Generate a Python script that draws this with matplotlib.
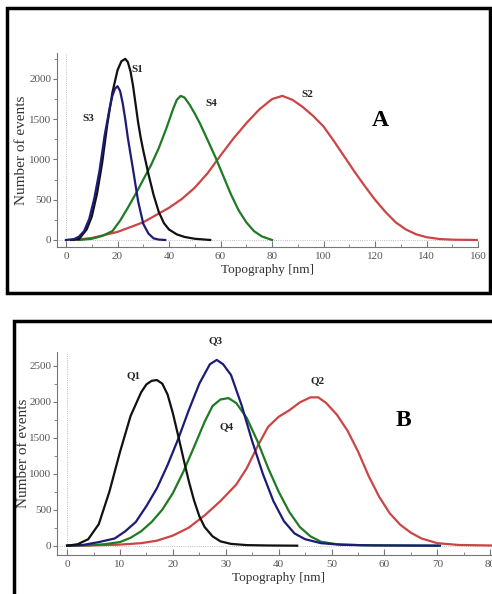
import matplotlib
matplotlib.use('Agg')
import matplotlib.pyplot as plt
from matplotlib.patches import Rectangle
from matplotlib.ticker import MultipleLocator

# Panel A data (Topography [nm] vs Number of events)
s1_x = [2, 5, 8, 10, 12, 14, 16, 18, 20, 21.5, 23, 24, 25, 26, 27, 28, 29, 30, 32, 34, 36, 38, 40, 43, 46, 50, 56]
s1_y = [0, 10, 130, 290, 570, 950, 1430, 1830, 2110, 2220, 2250, 2210, 2100, 1920, 1690, 1460, 1270, 1110, 820, 560, 350, 210, 130, 70, 38, 15, 0]

s3_x = [0, 3, 5, 7, 9, 11, 13, 15, 17, 18, 19, 20, 21, 22, 23, 24, 26, 28, 30, 32, 34, 36, 38.5]
s3_y = [0, 10, 40, 110, 260, 520, 860, 1300, 1650, 1790, 1880, 1910, 1850, 1700, 1500, 1270, 880, 480, 200, 80, 20, 5, 0]

s4_x = [5, 10, 14, 18, 21, 24, 27, 30, 33, 36, 39, 41.5, 43, 44.5, 46, 48, 50, 52, 55, 58, 61, 64, 67, 70, 73, 76, 80]
s4_y = [0, 15, 50, 110, 240, 400, 570, 750, 930, 1140, 1390, 1620, 1740, 1790, 1770, 1680, 1570, 1448, 1240, 1030, 800, 570, 370, 220, 110, 45, 0]

s2_x = [3, 10, 20, 30, 40, 45, 50, 55, 60, 65, 70, 75, 80, 84, 88, 92, 96, 100, 104, 108, 112, 116, 120, 124, 128, 132, 136, 140, 145, 150, 159.5]
s2_y = [0, 25, 100, 220, 400, 510, 650, 830, 1050, 1260, 1450, 1620, 1750, 1790, 1740, 1650, 1540, 1410, 1230, 1040, 850, 670, 500, 350, 220, 130, 70, 35, 12, 4, 0]

# Panel B data
q1_x = [0, 2, 4, 6, 8, 10, 12, 14, 15, 16, 17, 18, 19, 20, 21, 22, 23, 24, 25, 26, 27.5, 29, 31, 34, 38, 43.5]
q1_y = [0, 20, 90, 300, 750, 1300, 1800, 2130, 2240, 2290, 2300, 2250, 2100, 1840, 1530, 1210, 900, 630, 410, 260, 130, 60, 25, 8, 3, 0]

q3_x = [0, 3, 6, 9, 11, 13, 15, 17, 19, 21, 23, 25, 27, 28.3, 29.5, 31, 33, 35, 37, 39, 41, 43, 45, 48, 52, 58, 70.5]
q3_y = [0, 10, 50, 100, 200, 330, 550, 800, 1120, 1480, 1880, 2250, 2520, 2580, 2520, 2370, 1950, 1450, 1000, 620, 340, 170, 90, 35, 12, 4, 0]

q4_x = [0, 4, 7, 10, 12, 14, 16, 18, 20, 22, 24, 26, 27.5, 29, 30.5, 32, 34, 36, 38, 40, 42, 44, 46, 48, 51, 56, 70]
q4_y = [0, 5, 20, 50, 110, 200, 330, 500, 730, 1030, 1370, 1720, 1940, 2030, 2050, 1980, 1770, 1450, 1080, 750, 470, 260, 130, 55, 20, 6, 0]

q2_x = [0, 5, 10, 14, 17, 20, 23, 26, 29, 32, 34, 36, 38, 40, 42, 44, 46, 47.5, 49, 51, 53, 55, 57, 59, 61, 63, 65, 67, 70, 74, 80, 84]
q2_y = [0, 5, 15, 35, 70, 140, 250, 420, 620, 850, 1080, 1380, 1650, 1790, 1880, 1990, 2060, 2060, 1980, 1820, 1600, 1310, 970, 680, 450, 290, 180, 100, 35, 10, 3, 0]

BLACK = '#111111'
BLUE = '#1c1c78'
GREEN = '#1f7a23'
RED = '#cc4444'

plt.rcParams['font.family'] = ['Liberation Serif', 'DejaVu Serif']

fig = plt.figure(figsize=(4.92, 5.94), dpi=100)


def style_axes(ax, xmaj, xmin, ymaj, ymin, ylab_x):
    for side in ['top', 'right']:
        ax.spines[side].set_visible(False)
    for side in ['left', 'bottom']:
        ax.spines[side].set_color('#777777')
        ax.spines[side].set_linewidth(0.8)
    ax.xaxis.set_major_locator(MultipleLocator(xmaj))
    ax.xaxis.set_minor_locator(MultipleLocator(xmin))
    ax.yaxis.set_major_locator(MultipleLocator(ymaj))
    ax.yaxis.set_minor_locator(MultipleLocator(ymin))
    ax.tick_params(axis='x', which='both', direction='in', colors='#777777',
                   labelcolor='#555555', labelsize=8, length=4)
    ax.tick_params(axis='x', which='minor', length=2.5)
    ax.tick_params(axis='y', which='both', direction='out', colors='#777777',
                   labelcolor='#555555', labelsize=8, length=3, pad=1)
    ax.tick_params(axis='y', which='minor', length=2)
    ax.axhline(0, color='#aaaaaa', lw=0.6, ls=':', zorder=0)
    ax.axvline(0, color='#aaaaaa', lw=0.6, ls=':', zorder=0)
    ax.set_xlabel('Topography [nm]', fontsize=9.5, color='#333333', labelpad=2)
    ax.set_ylabel('Number of events', fontsize=11, color='#333333')
    ax.yaxis.set_label_coords(ylab_x, 0.5)


# frames around the two panels
fig.patches.append(Rectangle((0.0142, 0.5067), 0.9817, 0.4798, transform=fig.transFigure,
                             fill=False, edgecolor='black', lw=2.5))
fig.patches.append(Rectangle((0.0285, -0.05), 1.1, 0.5096, transform=fig.transFigure,
                             fill=False, edgecolor='black', lw=2.5))

# Panel A
axA = fig.add_axes([0.1159, 0.5842, 0.8557, 0.3266])
axA.plot(s2_x, s2_y, color=RED, lw=1.6)
axA.plot(s4_x, s4_y, color=GREEN, lw=1.6)
axA.plot(s1_x, s1_y, color=BLACK, lw=1.6)
axA.plot(s3_x, s3_y, color=BLUE, lw=1.6)
axA.set_xlim(-3.5, 160)
axA.set_ylim(-87, 2323)
style_axes(axA, 20, 10, 500, 250, -0.069)
lbl = dict(fontsize=8, fontweight='bold', color='#222222', ha='center', va='center')
axA.text(27.6, 2112, 'S1', **lbl)
axA.text(8.5, 1515, 'S3', **lbl)
axA.text(56.3, 1700, 'S4', **lbl)
axA.text(93.6, 1813, 'S2', **lbl)
axA.text(122, 1490, 'A', fontsize=17, fontweight='bold', color='black', ha='center', va='center')

# Panel B
axB = fig.add_axes([0.1159, 0.0657, 0.9020, 0.3422])
axB.plot(q2_x, q2_y, color=RED, lw=1.6)
axB.plot(q4_x, q4_y, color=GREEN, lw=1.6)
axB.plot(q3_x, q3_y, color=BLUE, lw=1.6)
axB.plot(q1_x, q1_y, color=BLACK, lw=1.6)
axB.set_xlim(-1.9, 82)
axB.set_ylim(-129, 2694)
style_axes(axB, 10, 5, 500, 250, -0.061)
axB.text(12.5, 2355, 'Q1', **lbl)
axB.text(28, 2843, 'Q3', clip_on=False, **lbl)
axB.text(30.2, 1649, 'Q4', **lbl)
axB.text(47.4, 2287, 'Q2', **lbl)
axB.text(63.5, 1732, 'B', fontsize=17, fontweight='bold', color='black', ha='center', va='center')

fig.savefig('out.png', dpi=100)
